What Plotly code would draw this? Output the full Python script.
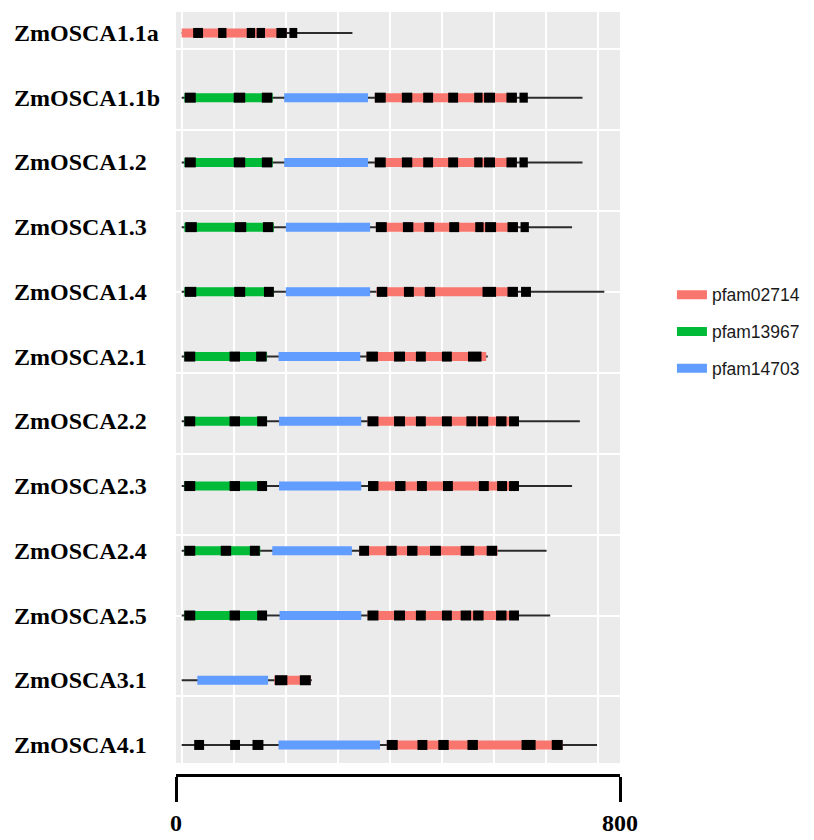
import plotly.graph_objects as go

proteins = ["ZmOSCA1.1a", "ZmOSCA1.1b", "ZmOSCA1.2", "ZmOSCA1.3", "ZmOSCA1.4",
            "ZmOSCA2.1", "ZmOSCA2.2", "ZmOSCA2.3", "ZmOSCA2.4", "ZmOSCA2.5",
            "ZmOSCA3.1", "ZmOSCA4.1"]
lengths = [328, 770, 770, 750, 812, 588, 765, 750, 701, 708, 250, 798]

# pfam02714 (red)
pf02714_protein = ["ZmOSCA1.1a", "ZmOSCA1.1b", "ZmOSCA1.2", "ZmOSCA1.3", "ZmOSCA1.4",
                   "ZmOSCA2.1", "ZmOSCA2.2", "ZmOSCA2.3", "ZmOSCA2.4", "ZmOSCA2.5",
                   "ZmOSCA3.1", "ZmOSCA4.1"]
pf02714_start = [0, 371, 371, 373, 374, 355, 357, 358, 341, 357, 178, 394]
pf02714_end = [202, 644, 644, 646, 646, 585, 629, 629, 607, 629, 248, 732]

# pfam13967 (green)
pf13967_protein = ["ZmOSCA1.1b", "ZmOSCA1.2", "ZmOSCA1.3", "ZmOSCA1.4",
                   "ZmOSCA2.1", "ZmOSCA2.2", "ZmOSCA2.3", "ZmOSCA2.4", "ZmOSCA2.5"]
pf13967_start = [5, 5, 5, 5, 5, 5, 5, 5, 5]
pf13967_end = [175, 175, 177, 177, 164, 164, 164, 151, 164]

# pfam14703 (blue)
pf14703_protein = ["ZmOSCA1.1b", "ZmOSCA1.2", "ZmOSCA1.3", "ZmOSCA1.4",
                   "ZmOSCA2.1", "ZmOSCA2.2", "ZmOSCA2.3", "ZmOSCA2.4", "ZmOSCA2.5",
                   "ZmOSCA3.1", "ZmOSCA4.1"]
pf14703_start = [197, 197, 200, 200, 186, 187, 187, 174, 188, 30, 186]
pf14703_end = [358, 358, 362, 362, 343, 345, 345, 327, 345, 166, 381]

# motifs (black boxes)
motif_protein = (["ZmOSCA1.1a"] * 6 + ["ZmOSCA1.1b"] * 11 + ["ZmOSCA1.2"] * 11 +
                 ["ZmOSCA1.3"] * 11 + ["ZmOSCA1.4"] * 9 + ["ZmOSCA2.1"] * 8 +
                 ["ZmOSCA2.2"] * 11 + ["ZmOSCA2.3"] * 10 + ["ZmOSCA2.4"] * 9 +
                 ["ZmOSCA2.5"] * 11 + ["ZmOSCA3.1"] * 2 + ["ZmOSCA4.1"] * 9)
motif_start = [22, 70, 125, 144, 182, 207,
               6, 100, 154, 371, 423, 464, 512, 562, 581, 624, 649,
               6, 100, 154, 371, 423, 464, 512, 562, 581, 624, 649,
               7, 102, 156, 373, 425, 466, 514, 564, 583, 626, 651,
               6, 101, 158, 375, 427, 467, 578, 626, 652,
               5, 92, 143, 355, 408, 450, 500, 550,
               5, 92, 145, 357, 408, 450, 500, 547, 569, 604, 629,
               5, 92, 145, 358, 410, 452, 502, 571, 606, 629,
               5, 75, 131, 341, 393, 433, 477, 536, 586,
               5, 92, 145, 357, 408, 450, 500, 536, 560, 604, 629,
               179, 227,
               24, 93, 136, 394, 453, 493, 549, 653, 711]
motif_end = [41, 86, 141, 160, 202, 222,
             27, 122, 174, 392, 443, 483, 531, 578, 602, 644, 665,
             27, 122, 174, 392, 443, 483, 531, 578, 602, 644, 665,
             29, 124, 176, 394, 445, 485, 533, 580, 604, 646, 667,
             28, 122, 177, 395, 446, 487, 604, 646, 671,
             26, 112, 163, 377, 429, 469, 519, 576,
             26, 112, 164, 378, 429, 469, 519, 566, 589, 624, 648,
             26, 112, 164, 378, 430, 471, 521, 590, 625, 648,
             26, 95, 150, 360, 413, 453, 498, 562, 606,
             26, 112, 164, 378, 429, 469, 519, 556, 580, 624, 648,
             203, 248,
             43, 112, 157, 415, 472, 513, 569, 680, 732]

row_of = {p: i for i, p in enumerate(proteins)}


def segments(names, starts, ends):
    xs, ys = [], []
    for n, s, e in zip(names, starts, ends):
        xs += [s, e, None]
        ys += [row_of[n], row_of[n], None]
    return xs, ys


fig = go.Figure()

# backbone
bx, by = segments(proteins, [0] * len(proteins), lengths)
fig.add_trace(go.Scatter(x=bx, y=by, mode="lines", line=dict(color="#2b2b2b", width=2),
                         showlegend=False, hoverinfo="skip"))

for name, color, pn, ps, pe in [
    ("pfam02714", "#F8766D", pf02714_protein, pf02714_start, pf02714_end),
    ("pfam13967", "#00BA38", pf13967_protein, pf13967_start, pf13967_end),
    ("pfam14703", "#619CFF", pf14703_protein, pf14703_start, pf14703_end),
]:
    dx, dy = segments(pn, ps, pe)
    fig.add_trace(go.Scatter(x=dx, y=dy, mode="lines", name=name,
                             line=dict(color=color, width=9), legendgroup=name))

mx, my = segments(motif_protein, motif_start, motif_end)
fig.add_trace(go.Scatter(x=mx, y=my, mode="lines", line=dict(color="#000000", width=10),
                         showlegend=False, hoverinfo="skip"))

# invisible trace for scale-bar axis
fig.add_trace(go.Scatter(x=[0, 800], y=[0, 0], xaxis="x2", mode="markers",
                         marker=dict(opacity=0), showlegend=False, hoverinfo="skip"))

for i, p in enumerate(proteins):
    fig.add_annotation(x=-0.37, xref="paper", y=i, yref="y", text="<b>" + p + "</b>",
                       showarrow=False, xanchor="left", yanchor="middle",
                       font=dict(family="Liberation Serif", size=24, color="#000000"))

fig.update_layout(
    width=806, height=832,
    margin=dict(l=168, r=194, t=4, b=63),
    paper_bgcolor="white", plot_bgcolor="#EBEBEB",
    xaxis=dict(range=[-10.95, 842.1], showticklabels=False, ticks="", dtick=100, tick0=0,
               showgrid=True, gridcolor="white", gridwidth=1.5, zeroline=False,
               showline=False),
    yaxis=dict(range=[11.279, -0.3236], domain=[0.0157, 1], showticklabels=False, ticks="",
               tick0=0.25, dtick=1.25, showgrid=True, gridcolor="white", gridwidth=1.5,
               zeroline=False, showline=False),
    xaxis2=dict(range=[0, 800], overlaying="x", anchor="free", position=0, side="bottom",
                showgrid=False, zeroline=False, showline=True, linewidth=3, linecolor="black",
                ticks="outside", ticklen=25, tickwidth=3, tickcolor="black",
                tickvals=[0, 800], ticktext=["<b>0</b>", "<b>800</b>"],
                tickfont=dict(family="Liberation Serif", size=24, color="black")),
    legend=dict(x=1.117, y=0.653, xanchor="left", yanchor="top",
                font=dict(family="Liberation Sans", size=17.5, color="#1a1a1a"),
                tracegroupgap=11, bgcolor="rgba(0,0,0,0)"),
    showlegend=True,
)

fig.write_html("out.html")
